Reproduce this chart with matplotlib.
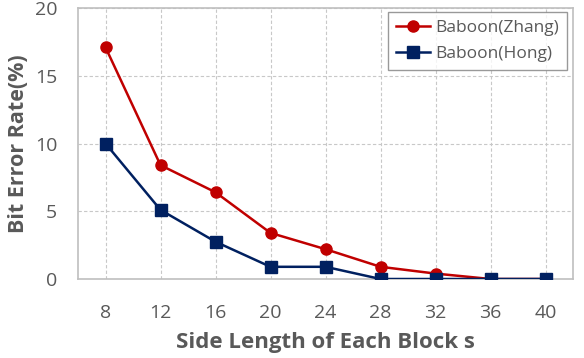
import matplotlib
matplotlib.use("Agg")
import matplotlib.pyplot as plt

categories = ["8", "12", "16", "20", "24", "28", "32", "36", "40"]
zhang = [17.1, 8.4, 6.4, 3.4, 2.2, 0.9, 0.4, 0.0, 0.0]
hong = [10.0, 5.1, 2.75, 0.9, 0.9, 0.0, 0.0, 0.0, 0.0]
yticks = [0, 5, 10, 15, 20]

plt.rcParams['font.family'] = ['Open Sans', 'DejaVu Sans']

fig = plt.figure(figsize=(5.84, 3.58), dpi=100)
ax = fig.add_axes([78/584, 1-279/358, (573-78)/584, (279-8)/358])

x = list(range(len(categories)))
ax.plot(x, zhang, color="#c00000", lw=1.8, marker="o", ms=8, label="Baboon(Zhang)", zorder=3)
ax.plot(x, hong, color="#002060", lw=1.8, marker="s", ms=8, label="Baboon(Hong)", zorder=4)

ax.set_xlim(-0.5, len(categories) - 0.5)
ax.set_ylim(0, 20)
ax.set_xticks(x)
ax.set_xticklabels(categories)
ax.set_yticks(yticks)
ax.grid(True, color="#c8c8c8", ls=(0, (3, 2)), lw=0.8)
ax.set_axisbelow(True)
for s in ax.spines.values():
    s.set_color("#bfbfbf")
    s.set_linewidth(1.2)
ax.tick_params(length=0, labelsize=14, colors="#595959")
ax.tick_params(axis="y", pad=15)
ax.tick_params(axis="x", pad=18)
ax.set_xlabel("Side Length of Each Block s", fontsize=16, fontweight="bold", color="#595959", labelpad=7)
ax.set_ylabel("Bit Error Rate(%)", fontsize=15.5, fontweight="bold", color="#595959", labelpad=4)

leg = ax.legend(loc="upper right", fontsize=12.5, frameon=True, fancybox=False,
                edgecolor="#808080", handlelength=2.0, handletextpad=0.3, borderpad=0.45,
                labelspacing=0.55, borderaxespad=0, bbox_to_anchor=(0.988, 0.985))
for t in leg.get_texts():
    t.set_color("#595959")
leg.get_frame().set_linewidth(1.0)

fig.savefig("out.png", dpi=100)
